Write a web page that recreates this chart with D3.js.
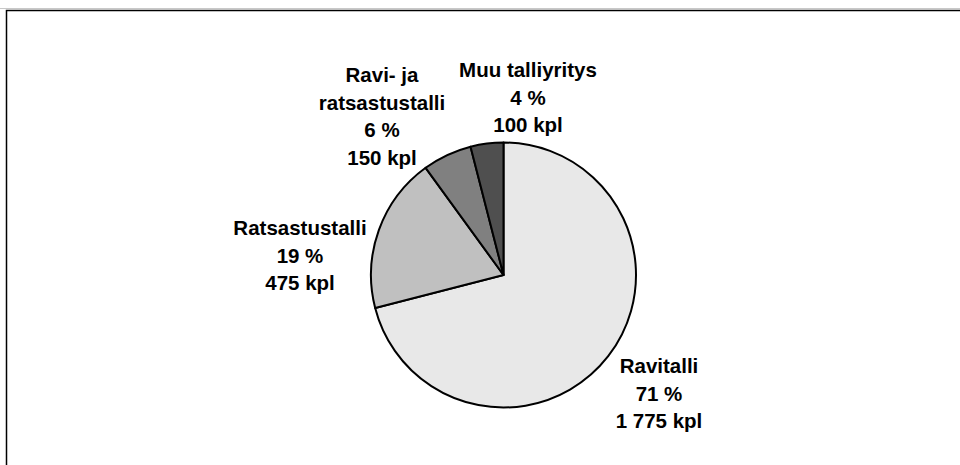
<!DOCTYPE html>
<html lang="fi">
<head>
<meta charset="UTF-8" />
<title>Tallityypit</title>
<script src="https://d3js.org/d3.v7.min.js"></script>
<style>
  body { margin: 0; background: #fff; }
  svg text { font-family: "Liberation Sans", Arial, sans-serif; font-weight: bold; fill: #000; }
</style>
</head>
<body>
<svg id="chart" width="960" height="465"></svg>
<script>
// data
const categories = ["Ravitalli", "Ratsastustalli", "Ravi- ja ratsastustalli", "Muu talliyritys"];
const counts = [1775, 475, 150, 100];
const percents = [71, 19, 6, 4];
const labelLines = [
  ["Ravitalli"],
  ["Ratsastustalli"],
  ["Ravi- ja", "ratsastustalli"],
  ["Muu talliyritys"]
];

// styling / layout
const fills = ["#e8e8e8", "#c0c0c0", "#808080", "#4f4f4f"];
const labelPos = [[659, 373], [300, 235], [382, 82], [528, 77]];
const lineH = 27.5;

const svg = d3.select("#chart");
const cx = 503.5, cy = 275, radius = 132.5;

// frame
svg.append("line").attr("x1", 0).attr("x2", 960).attr("y1", 8.5).attr("y2", 8.5)
  .attr("stroke", "#c8c8c8").attr("stroke-width", 1);
svg.append("path")
  .attr("d", "M6.5,465 V10.5 H960")
  .attr("fill", "none").attr("stroke", "#000").attr("stroke-width", 1.5);

const pie = d3.pie().sort(null).value(d => d);
const arc = d3.arc().innerRadius(0).outerRadius(radius);

const g = svg.append("g").attr("transform", `translate(${cx},${cy})`);
g.selectAll("path")
  .data(pie(counts))
  .join("path")
  .attr("d", arc)
  .attr("fill", (d, i) => fills[i])
  .attr("stroke", "#000")
  .attr("stroke-width", 2)
  .attr("stroke-linejoin", "round");

const fmt = n => d3.format(",")(n).replace(/,/g, " ");

categories.forEach((c, i) => {
  const lines = labelLines[i].concat([percents[i] + " %", fmt(counts[i]) + " kpl"]);
  const t = svg.append("text")
    .attr("text-anchor", "middle")
    .style("font-size", "20.5px");
  lines.forEach((s, j) => {
    t.append("tspan")
      .attr("x", labelPos[i][0])
      .attr("y", labelPos[i][1] + j * lineH)
      .text(s);
  });
});
</script>
</body>
</html>
